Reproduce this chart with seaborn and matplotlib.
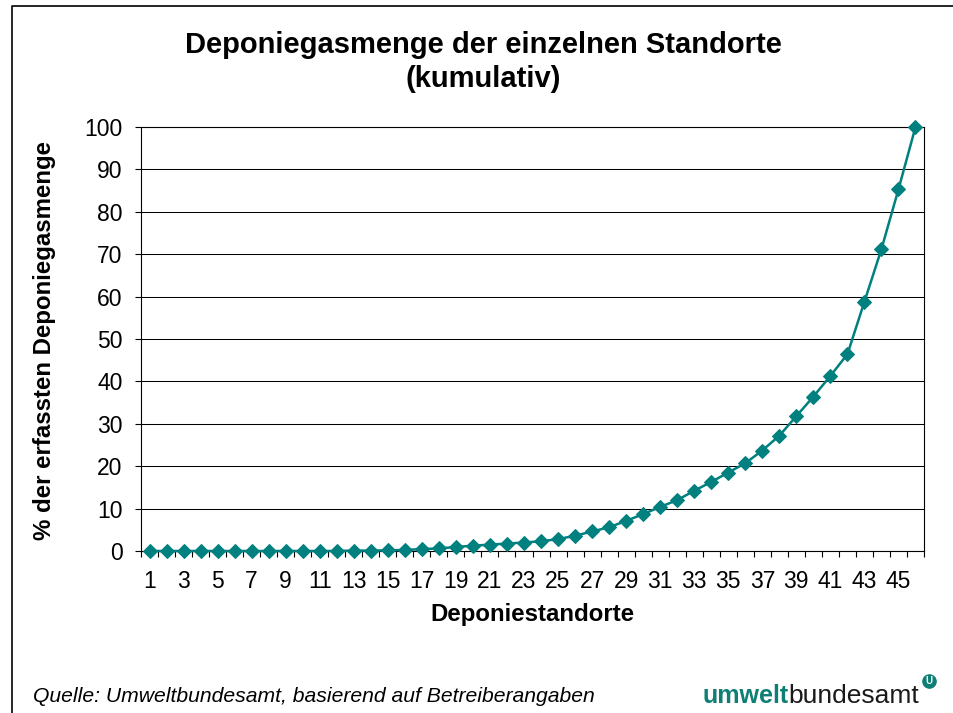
import seaborn as sns
import pandas as pd
import matplotlib.pyplot as plt
from matplotlib.lines import Line2D
from matplotlib.ticker import MultipleLocator, FixedLocator

# Data
standorte = list(range(1, 47))
anteil = [0.0, 0.0, 0.0, 0.0, 0.0, 0.0, 0.0, 0.0, 0.0, 0.0,
          0.0, 0.0, 0.1, 0.1, 0.15, 0.25, 0.45, 0.6, 0.95, 1.25,
          1.5, 1.75, 2.0, 2.3, 2.8, 3.6, 4.6, 5.6, 7.1, 8.7,
          10.4, 12.0, 14.2, 16.3, 18.5, 20.7, 23.7, 27.2, 31.8, 36.4,
          41.3, 46.4, 58.8, 71.2, 85.3, 100.0]
x_labels = [str(i) for i in range(1, 47, 2)]

title = "Deponiegasmenge der einzelnen Standorte\n(kumulativ)"
ylabel = "% der erfassten Deponiegasmenge"
xlabel = "Deponiestandorte"
source = "Quelle: Umweltbundesamt, basierend auf Betreiberangaben"

teal = "#00807F"
logo_teal = "#0E7F74"

df = pd.DataFrame({"standort": standorte, "anteil": anteil})

sns.set_style("white")
plt.rcParams["font.family"] = ["Liberation Sans", "DejaVu Sans"]
plt.rcParams["text.color"] = "black"
plt.rcParams["xtick.color"] = "black"
plt.rcParams["ytick.color"] = "black"

W, H = 954, 713
fig = plt.figure(figsize=(W / 100, H / 100), dpi=100)
ax = fig.add_axes([141 / W, 1 - 551 / H, (924 - 141) / W, (551 - 127) / H])

sns.lineplot(data=df, x="standort", y="anteil", ax=ax, color=teal,
             marker="D", markersize=7.5, markeredgecolor=teal,
             linewidth=1.8, clip_on=False, zorder=3)

ax.set_xlim(0.5, 46.5)
ax.set_ylim(0, 100)

# y axis
ax.yaxis.set_major_locator(MultipleLocator(10))
ax.tick_params(axis="y", which="major", direction="out", length=4.3,
               width=0.8, color="black", labelcolor="black", pad=9,
               labelsize=16.5, left=True)
ax.grid(axis="y", color="black", linewidth=0.75)
ax.set_axisbelow(True)

# x axis: labels on odd categories, tick marks between categories
ax.xaxis.set_major_locator(FixedLocator(range(1, 47, 2)))
ax.set_xticklabels(x_labels)
ax.xaxis.set_minor_locator(FixedLocator([i + 0.5 for i in range(0, 47)]))
ax.tick_params(axis="x", which="major", length=0, pad=14, labelsize=16.5,
               labelcolor="black", bottom=True)
ax.tick_params(axis="x", which="minor", direction="out", length=4.3,
               width=0.8, color="black", bottom=True)

for s in ax.spines.values():
    s.set_visible(True)
    s.set_color("black")
    s.set_linewidth(0.8)

ax.set_xlabel("")
ax.set_ylabel("")

fig.text(483 / W, 1 - 62 / H, title, ha="center", va="center",
         fontsize=21, fontweight="bold", linespacing=1.25)
fig.text(45 / W, 1 - 341 / H, ylabel, rotation=90, ha="center", va="center",
         fontsize=17.3, fontweight="bold")
fig.text(532 / W, 1 - 614 / H, xlabel, ha="center", va="center",
         fontsize=17.3, fontweight="bold")
fig.text(33 / W, 1 - 697 / H, source, ha="left", va="center",
         fontsize=15.2, style="italic")

# logo text
t1 = fig.text(703 / W, 1 - 703 / H, "umwelt", ha="left", va="baseline",
              fontsize=18, fontweight="bold", color=logo_teal)
ax.annotate("bundesamt", xy=(0.99, 0), xycoords=t1, ha="left", va="bottom",
            fontsize=19, color="#1a1a1a", annotation_clip=False)
fig.add_artist(Line2D([929 / W], [1 - 681 / H], marker="o", markersize=9.5,
                      color=logo_teal, linestyle="none"))
fig.text(929 / W, 1 - 681.5 / H, "U", ha="center", va="center",
         fontsize=7, fontweight="bold", color="white")

# outer frame (cut off at the right and bottom in the reference)
fig.add_artist(Line2D([12.5 / W, 12.5 / W, 1.01], [-0.01, 1 - 6 / H, 1 - 6 / H],
                      color="black", linewidth=1.2))

fig.savefig("out.png", dpi=100)
